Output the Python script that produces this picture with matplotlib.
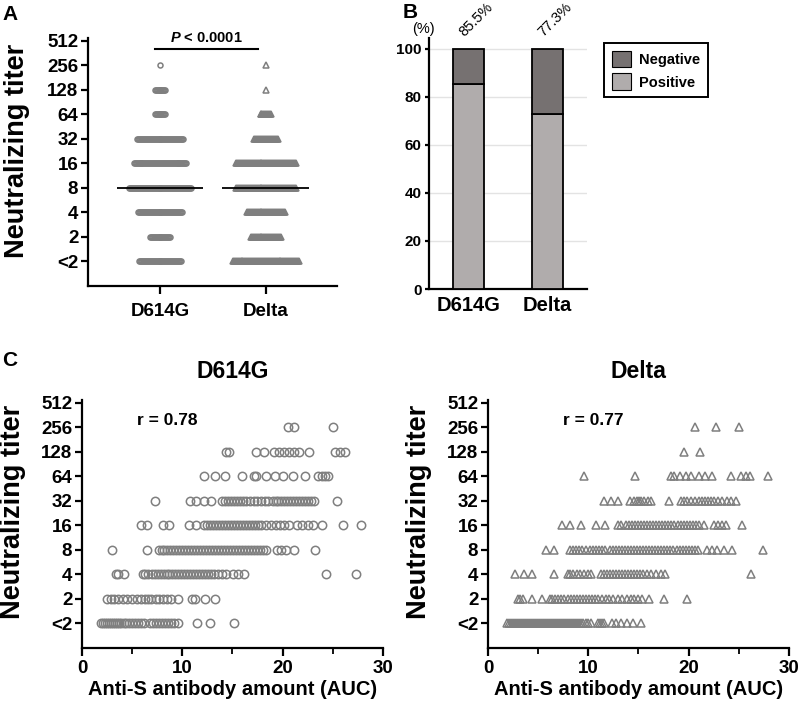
import numpy as np
import matplotlib
matplotlib.use("Agg")
import matplotlib.pyplot as plt
from matplotlib.patches import Patch

plt.rcParams['font.family'] = ['Liberation Sans', 'DejaVu Sans']
plt.rcParams['font.weight'] = 'bold'
plt.rcParams['mathtext.fontset'] = 'custom'
plt.rcParams['mathtext.it'] = 'Liberation Sans:bold:italic'
plt.rcParams['axes.linewidth'] = 1.6

## Data
titer_labels = ['<2', '2', '4', '8', '16', '32', '64', '128', '256', '512']
variants = ['D614G', 'Delta']

# Panel A: number of sera at each titer level (<2 ... 256)
counts_d614g = [44, 22, 46, 64, 55, 48, 12, 12, 1]
counts_delta = [69, 32, 40, 62, 62, 25, 12, 1, 1]
median_level = [3, 3]          # titer 8

# Panel B: % positive / negative
positive_pct = [85.5, 72.7]
negative_pct = [14.5, 27.3]
pct_labels = ['85.5%', '77.3%']

# Panel C: anti-S AUC of each serum, per titer level (<2 ... 256)
auc_d614g = [
    [1.9, 2.1, 2.3, 2.5, 2.7, 2.9, 3.1, 3.3, 3.5, 3.7, 3.9, 4.2, 4.4, 4.7, 5.0, 5.3, 5.6, 5.9, 6.2,
     6.8, 7.1, 7.4, 7.7, 8.0, 8.3, 8.6, 8.9, 9.2, 9.6, 11.5, 12.8, 15.2],
    [2.5, 2.9, 3.2, 3.6, 4.1, 4.5, 5.0, 5.5, 5.9, 6.3, 6.6, 6.9, 7.4, 7.7, 8.1, 8.5, 8.9, 9.6,
     11.0, 11.3, 12.3, 13.3],
    [3.4, 3.6, 4.2, 6.1, 6.3, 6.6, 7.0, 7.3, 7.6, 7.9, 8.2, 8.5, 8.7, 9.0, 9.3, 9.6, 9.9, 10.2,
     10.5, 10.8, 11.1, 11.4, 11.7, 12.0, 12.3, 12.6, 12.9, 13.2, 13.6, 14.0, 14.4, 15.1, 15.6,
     16.2, 24.3, 27.3],
    [3.0, 6.5, 7.7, 8.0, 8.2, 8.5, 8.8, 9.1, 9.4, 9.7, 10.0, 10.3, 10.6, 10.9, 11.2, 11.5, 11.8,
     12.1, 12.4, 12.7, 13.0, 13.3, 13.6, 13.9, 14.2, 14.5, 14.8, 15.1, 15.4, 15.7, 16.0, 16.3,
     16.6, 16.9, 17.2, 17.5, 17.8, 18.1, 18.4, 19.4, 19.8, 20.3, 21.1, 23.2],
    [5.9, 6.5, 8.1, 8.7, 10.7, 11.4, 12.2, 12.5, 12.8, 13.1, 13.4, 13.7, 14.0, 14.3, 14.6, 14.9,
     15.2, 15.5, 15.8, 16.1, 16.4, 16.7, 17.0, 17.3, 17.6, 17.9, 18.4, 18.8, 19.3, 19.7, 20.1,
     20.6, 21.4, 21.9, 22.5, 23.0, 23.9, 26.0, 27.8],
    [7.3, 10.8, 11.4, 12.2, 12.9, 14.0, 14.3, 14.6, 14.9, 15.2, 15.5, 15.8, 16.1, 16.4, 16.8,
     17.2, 17.5, 17.9, 18.3, 18.6, 19.0, 19.3, 19.5, 19.8, 20.1, 20.4, 20.7, 21.0, 21.3, 21.6,
     21.9, 22.2, 22.5, 22.8, 23.1, 25.4],
    [12.2, 13.3, 14.3, 16.0, 17.2, 17.4, 18.4, 19.2, 20.0, 21.0, 22.2, 23.5, 23.9, 24.2, 24.5],
    [14.4, 14.7, 17.4, 18.2, 19.1, 19.6, 20.1, 20.6, 21.1, 21.6, 22.6, 25.2, 25.7, 26.2],
    [20.5, 21.1, 25.0],
]
auc_delta = [
    [1.9, 2.1, 2.3, 2.5, 2.7, 2.9, 3.1, 3.3, 3.5, 3.7, 3.9, 4.1, 4.3, 4.5, 4.7, 4.9, 5.1, 5.3,
     5.5, 5.7, 5.9, 6.1, 6.3, 6.5, 6.7, 6.9, 7.1, 7.3, 7.5, 7.7, 7.9, 8.1, 8.3, 8.5, 8.7, 8.9,
     9.1, 9.3, 9.5, 9.8, 10.0, 10.3, 11.0, 11.2, 11.4, 11.6, 12.4, 12.8, 13.3, 13.9, 14.5, 15.3],
    [3.0, 3.2, 3.5, 4.4, 5.4, 6.2, 6.4, 6.7, 7.0, 7.3, 7.6, 8.0, 8.3, 8.6, 8.9, 9.2, 9.5, 9.8,
     10.1, 10.4, 10.7, 11.0, 11.4, 11.8, 12.1, 12.5, 13.0, 13.4, 13.9, 14.3, 14.6, 15.0, 15.4,
     16.1, 17.6, 19.8],
    [2.7, 3.6, 4.4, 6.6, 8.0, 8.2, 8.5, 8.9, 9.2, 9.6, 10.0, 10.3, 11.3, 11.6, 11.9, 12.2, 12.5,
     12.8, 13.1, 13.4, 13.7, 14.0, 14.3, 14.6, 14.9, 15.2, 15.5, 15.9, 16.3, 16.8, 17.3, 17.7,
     26.2],
    [5.8, 6.6, 8.2, 8.5, 8.8, 9.1, 9.4, 9.8, 10.2, 10.5, 10.8, 11.1, 11.4, 11.7, 12.2, 12.5,
     12.8, 13.1, 13.4, 13.7, 14.0, 14.3, 14.6, 14.9, 15.2, 15.5, 15.8, 16.1, 16.4, 16.7, 17.0,
     17.3, 17.6, 17.9, 18.2, 18.5, 18.8, 19.1, 19.4, 19.7, 20.0, 20.3, 20.6, 20.9, 21.8, 22.3,
     22.8, 23.5, 24.3, 27.4],
    [7.4, 8.2, 9.3, 10.8, 11.7, 13.0, 13.3, 13.8, 14.1, 14.4, 14.7, 15.0, 15.3, 15.6, 15.9,
     16.2, 16.5, 16.8, 17.1, 17.4, 17.7, 18.0, 18.3, 18.6, 18.9, 19.2, 19.5, 19.8, 20.1, 20.4,
     20.7, 21.0, 21.5, 22.5, 22.9, 23.3, 23.7, 25.3],
    [11.6, 12.3, 13.0, 14.2, 14.6, 14.9, 15.1, 15.3, 15.6, 16.0, 16.3, 18.1, 19.2, 19.5, 19.8,
     20.2, 20.6, 21.0, 21.3, 21.6, 21.9, 22.2, 22.5, 22.9, 23.3, 23.8, 24.2, 24.7],
    [9.6, 14.7, 18.3, 18.6, 19.1, 19.7, 20.2, 21.0, 21.6, 22.3, 24.2, 25.2, 25.7, 26.1, 27.9],
    [19.5, 21.1],
    [20.6, 22.7, 25.0],
]
r_values = ['r = 0.78', 'r = 0.77']

gray = '#7f7f7f'

fig = plt.figure(figsize=(8.0, 7.02), dpi=100)


def style_titer_axis(ax, fs=13.5):
    ax.set_ylim(-1, 9.12)
    ax.set_yticks(range(len(titer_labels)))
    ax.set_yticklabels(titer_labels, fontsize=fs, fontweight='bold')
    ax.spines['top'].set_visible(False)
    ax.spines['right'].set_visible(False)
    ax.tick_params(axis='y', length=5, width=1.6, pad=2)


## Panel A: dot plot
axA = fig.add_axes([0.11, 0.5926, 0.311, 0.3533])
spacing = 0.0092
for xi, (counts, mk, ms) in enumerate([(counts_d614g, 'o', 3.6), (counts_delta, '^', 3.8)]):
    for lvl, n in enumerate(counts):
        xs = xi + (np.arange(n) - (n - 1) / 2) * spacing
        axA.plot(xs, np.full(n, lvl), mk, ms=ms, mfc='none', mec=gray, mew=1.1, ls='none')
    axA.hlines(median_level[xi], xi - 0.41, xi + 0.41, color='black', lw=1.3, zorder=5)
style_titer_axis(axA)
axA.set_xlim(-0.68, 1.67)
axA.set_xticks([0, 1])
axA.set_xticklabels(variants, fontsize=13.5, fontweight='bold')
axA.tick_params(axis='x', length=6, width=1.6, pad=6)
axA.set_ylabel('Neutralizing titer', fontsize=19.5, fontweight='bold')
axA.yaxis.set_label_coords(-0.235, 0.545)
axA.plot([-0.05, 0.93], [8.69, 8.69], color='black', lw=1.5, clip_on=False)
axA.text(0.44, 8.82, r'$P$ < 0.0001', ha='center', va='bottom', fontsize=10.5,
         fontweight='bold')

## Panel B: stacked bars
axB = fig.add_axes([0.536, 0.5883, 0.1975, 0.3575])
xb = np.arange(len(variants))
axB.bar(xb, positive_pct, width=0.39, color='#b0acac', edgecolor='black', lw=1.3, zorder=3)
axB.bar(xb, negative_pct, width=0.39, bottom=positive_pct, color='#767171',
        edgecolor='black', lw=1.3, zorder=3)
axB.set_xlim(-0.5, 1.5)
axB.set_ylim(0, 104.5)
axB.set_yticks([0, 20, 40, 60, 80, 100])
axB.set_yticklabels(['0', '20', '40', '60', '80', '100'], fontsize=11, fontweight='bold')
axB.yaxis.grid(True, color='#e3e3e3', lw=1.0, zorder=0)
axB.set_axisbelow(True)
axB.set_xticks(xb)
axB.set_xticklabels(variants, fontsize=14.5, fontweight='bold')
axB.tick_params(axis='x', length=0, pad=5)
axB.tick_params(axis='y', length=3, width=1.6, pad=2)
axB.spines['top'].set_visible(False)
axB.spines['right'].set_visible(False)
for xi, lab in zip(xb, pct_labels):
    axB.text(xi + 0.1, 112, lab, rotation=45, ha='center', va='center', fontsize=10.5,
             fontweight='normal', clip_on=False)
fig.text(423 / 800, 1 - 29 / 702, '(%)', ha='center', va='center', fontsize=10.5,
         fontweight='normal')
fig.legend(handles=[Patch(facecolor='#767171', edgecolor='black', lw=0.8, label='Negative'),
                    Patch(facecolor='#b0acac', edgecolor='black', lw=0.8, label='Positive')],
           loc='upper left', bbox_to_anchor=(597 / 800, 1 - 36 / 702), fancybox=False,
           edgecolor='black', framealpha=1, handlelength=1.3, handleheight=1.4,
           borderpad=0.5, labelspacing=0.4, handletextpad=0.6,
           prop={'weight': 'bold', 'size': 10.5}).get_frame().set_linewidth(1.4)

## Panel C: scatter plots
for k, (auc, mk, ms, left) in enumerate([(auc_d614g, 'o', 6.0, 0.1025),
                                         (auc_delta, '^', 6.3, 0.61)]):
    ax = fig.add_axes([left, 0.0775, 0.376, 0.353])
    for lvl, xs in enumerate(auc):
        ax.plot(xs, np.full(len(xs), lvl), mk, ms=ms, mfc='none', mec=gray, mew=1.1, ls='none')
    style_titer_axis(ax)
    ax.set_xlim(0, 30)
    ax.set_xticks([0, 10, 20, 30])
    ax.set_xticklabels(['0', '10', '20', '30'], fontsize=13.5, fontweight='bold')
    ax.set_xticks([5, 15, 25], minor=True)
    ax.tick_params(axis='x', which='major', length=6, width=1.6, pad=3)
    ax.tick_params(axis='x', which='minor', length=4, width=1.3)
    ax.set_xlabel('Anti-S antibody amount (AUC)', fontsize=14.5, fontweight='bold', labelpad=2)
    ax.set_ylabel('Neutralizing titer', fontsize=19.5, fontweight='bold')
    ax.yaxis.set_label_coords(-0.185, 0.548)
    ax.set_title(variants[k], fontsize=16.5, fontweight='bold', pad=16)
    ax.text(5.5 if k == 0 else 7.5, 8.26, r_values[k], ha='left', va='center',
            fontsize=12.5, fontweight='bold')

## Panel letters
fig.text(10 / 800, 1 - 14 / 702, 'A', ha='center', va='center', fontsize=15, fontweight='bold')
fig.text(410 / 800, 1 - 12 / 702, 'B', ha='center', va='center', fontsize=15, fontweight='bold')
fig.text(10 / 800, 1 - 361 / 702, 'C', ha='center', va='center', fontsize=15, fontweight='bold')

fig.savefig('out.png', dpi=100)
